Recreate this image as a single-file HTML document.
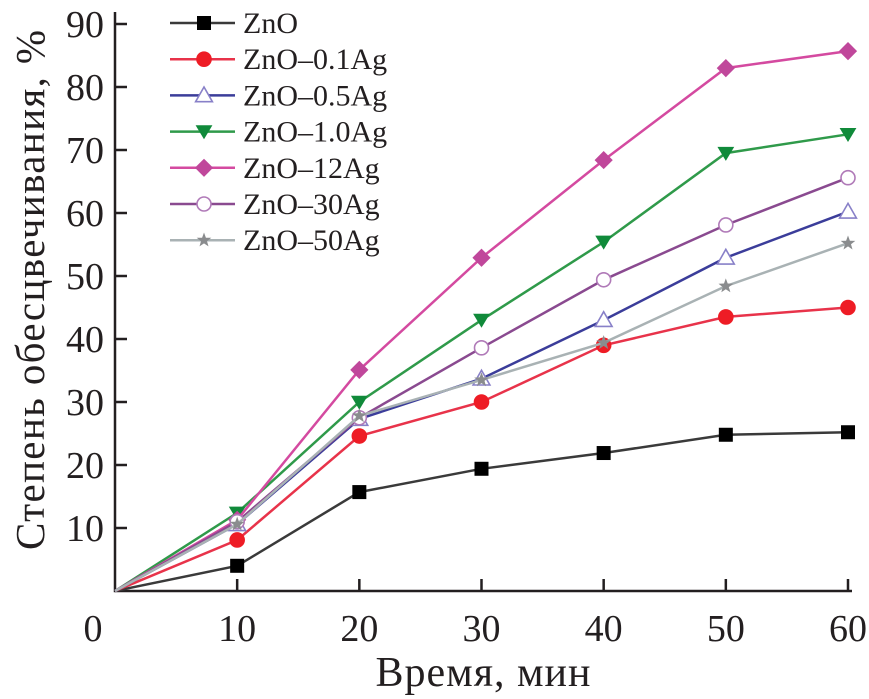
<!DOCTYPE html>
<html><head><meta charset="utf-8"><style>
html,body{margin:0;padding:0;background:#fff;}
svg{display:block;}
text{font-family:"Liberation Serif",serif;fill:#231f20;}
</style></head><body>
<svg id="chart" width="869" height="699" viewBox="0 0 869 699">
<g id="axes"></g>
<g id="series"></g>
<g id="legend"></g>
<text x="483" y="686" font-size="42" text-anchor="middle" textLength="215">Время, мин</text>
<text transform="translate(44,290) rotate(-90)" font-size="41" text-anchor="middle" textLength="520">Степень обесцвечивания, %</text>
</svg>
<script>
const xValues = [0, 10, 20, 30, 40, 50, 60];
const xTicks = [0, 10, 20, 30, 40, 50, 60];
const yTicks = [10, 20, 30, 40, 50, 60, 70, 80, 90];
const seriesNames = ["ZnO", "ZnO\u20130.1Ag", "ZnO\u20130.5Ag", "ZnO\u20131.0Ag", "ZnO\u201312Ag", "ZnO\u201330Ag", "ZnO\u201350Ag"];
const sZnO = [0, 4, 15.7, 19.4, 21.9, 24.8, 25.2];
const s01 = [0, 8.1, 24.6, 30, 39, 43.5, 45];
const s05 = [0, 10.6, 27.3, 33.7, 43, 52.9, 60.2];
const s10 = [0, 12.4, 30, 43, 55.4, 69.5, 72.5];
const s12 = [0, 11.3, 35.1, 52.9, 68.4, 83, 85.7];
const s30 = [0, 11, 27.5, 38.6, 49.4, 58.1, 65.6];
const s50 = [0, 10.6, 27.8, 33.5, 39.4, 48.4, 55.2];

const NS = "http://www.w3.org/2000/svg";
const X0 = 115, XW = 733, Y0 = 591, YH = 567;
function sx(v){ return X0 + v / 60 * XW; }
function sy(v){ return Y0 - v / 90 * YH; }
function el(tag, attrs, parent){ const e = document.createElementNS(NS, tag); for (const k in attrs) e.setAttribute(k, attrs[k]); parent.appendChild(e); return e; }

const styles = [
  {c:"#3a3a3a", m:"square", fill:"#000"},
  {c:"#e8334a", m:"circle", fill:"#ee1c25"},
  {c:"#3b3d9a", m:"tri-up", fill:"#fff", stroke:"#8880c8"},
  {c:"#2f9a4a", m:"tri-down", fill:"#108a3a"},
  {c:"#d44aa0", m:"diamond", fill:"#c0479b"},
  {c:"#8a4a90", m:"circle", fill:"#fff", stroke:"#b07ab8"},
  {c:"#a9b2b4", m:"star", fill:"#8a8c8e"}
];
const allSeries = [sZnO, s01, s05, s10, s12, s30, s50];

const axes = document.getElementById("axes");
const ax = el("path", {d:`M${X0} 12 V${Y0} H852`, fill:"none", stroke:"#231f20", "stroke-width":2.5}, axes);


xTicks.forEach(t => {
  if (t > 0) {
    const tk = el("line", {x1:sx(t), x2:sx(t), y1:Y0, y2:Y0-12, stroke:"#231f20", "stroke-width":2.5}, axes);
    
    
  }
  const lb = el("text", {x: t===0 ? 93 : sx(t), y:641, "font-size":38, "text-anchor":"middle"}, axes);
  lb.textContent = t;
  
  
});
yTicks.forEach(t => {
  const tk = el("line", {x1:X0, x2:X0+12, y1:sy(t), y2:sy(t), stroke:"#231f20", "stroke-width":2.5}, axes);
  
  
  const lb = el("text", {x:104, y:sy(t)+13, "font-size":38, "text-anchor":"end"}, axes);
  lb.textContent = t;
  
  
});

function marker(parent, type, x, y, st, r){
  let e;
  const stroke = st.stroke || st.fill;
  if (type === "square") e = el("rect", {x:x-r, y:y-r, width:2*r, height:2*r, fill:st.fill}, parent);
  else if (type === "circle") e = el("circle", {cx:x, cy:y, r:r, fill:st.fill, stroke:stroke, "stroke-width":1.6}, parent);
  else if (type === "tri-up") e = el("polygon", {points:`${x},${y-r*1.2} ${x-r*1.2},${y+r*0.9} ${x+r*1.2},${y+r*0.9}`, fill:st.fill, stroke:stroke, "stroke-width":1.6}, parent);
  else if (type === "tri-down") e = el("polygon", {points:`${x},${y+r*1.1} ${x-r*1.2},${y-r*0.9} ${x+r*1.2},${y-r*0.9}`, fill:st.fill}, parent);
  else if (type === "diamond") e = el("polygon", {points:`${x},${y-r*1.3} ${x+r*1.3},${y} ${x},${y+r*1.3} ${x-r*1.3},${y}`, fill:st.fill}, parent);
  else {
    let p = [];
    for (let i = 0; i < 10; i++) { const a = -Math.PI/2 + i*Math.PI/5; const rr = i%2 ? r*0.45 : r*1.1; p.push((x+rr*Math.cos(a)).toFixed(1)+","+(y+rr*Math.sin(a)).toFixed(1)); }
    e = el("polygon", {points:p.join(" "), fill:st.fill}, parent);
  }
  return e;
}

const sg = document.getElementById("series");
allSeries.forEach((vals, i) => {
  const st = styles[i];
  const g = el("g", {}, sg);
  
  
  const pts = vals.map((v, j) => sx(xValues[j]).toFixed(1) + "," + sy(v).toFixed(1)).join(" ");
  const pl = el("polyline", {points:pts, fill:"none", stroke:st.c, "stroke-width":2.5}, g);
  
  
  vals.forEach((v, j) => {
    if (j === 0) return;
    const m = marker(g, st.m, sx(xValues[j]), sy(v), st, 7);
    
    
  });
});

const lg = document.getElementById("legend");
seriesNames.forEach((n, i) => {
  const st = styles[i];
  const y = 23 + i * 36.2;
  const g = el("g", {}, lg);
  
  
  el("line", {x1:170, x2:235, y1:y, y2:y, stroke:st.c, "stroke-width":2.5}, g);
  marker(g, st.m, 204, y, st, 7);
  const t = el("text", {x:243, y:y+10, "font-size":30}, g);
  t.textContent = n;
});
</script>
</body></html>
